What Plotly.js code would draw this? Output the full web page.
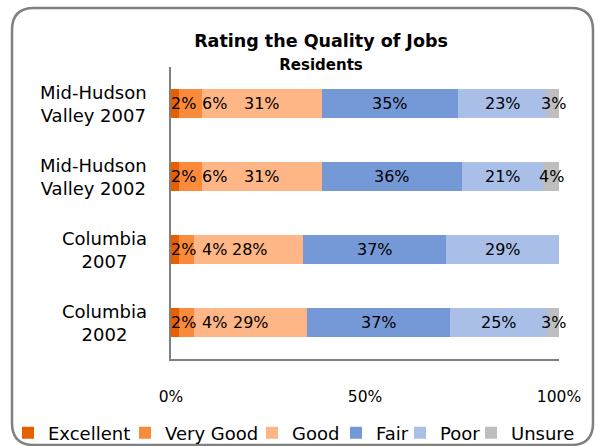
<!DOCTYPE html>
<html><head><meta charset="utf-8">
<script src="https://cdn.plot.ly/plotly-3.0.1.min.js"></script>
<style>html,body{margin:0;padding:0;background:#fff}#chart{width:595px;height:446px}</style>
</head><body><div id="chart"></div>
<script>
// ---- data ----
const categories = ['Mid-Hudson Valley 2007', 'Mid-Hudson Valley 2002', 'Columbia 2007', 'Columbia 2002'];
const categoryLabels = ['Mid-Hudson<br>Valley 2007', 'Mid-Hudson<br>Valley 2002', 'Columbia<br>2007', 'Columbia<br>2002'];
const seriesNames = ['Excellent', 'Very Good', 'Good', 'Fair', 'Poor', 'Unsure'];
const excellent = [2, 2, 2, 2];
const veryGood  = [6, 6, 4, 4];
const good      = [31, 31, 28, 29];
const fair      = [35, 36, 37, 37];
const poor      = [23, 21, 29, 25];
const unsure    = [3, 4, 0, 3];
const tickValues = [0, 50, 100];
const tickLabels = ['0%', '50%', '100%'];

// ---- styles ----
const seriesColors = ['#E65F00', '#FA8A3C', '#FFB686', '#7599D6', '#A9BFE8', '#BEBEBE'];
const FONT = 'DejaVu Sans, Verdana, sans-serif';
const W = 595, H = 446;
const M = {l: 171, r: 36, t: 67, b: 87};
const plotW = W - M.l - M.r, plotH = H - M.t - M.b;
const px2x = px => (px - M.l) / plotW;
const py2y = py => (H - M.b - py) / plotH;

const allSeries = [excellent, veryGood, good, fair, poor, unsure];
const legendIds = ['legend', 'legend2', 'legend3', 'legend4', 'legend5', 'legend6'];
const legendPx = [8, 125, 252, 336, 400, 471];

const traces = allSeries.map((vals, i) => ({
  type: 'bar', orientation: 'h', name: seriesNames[i],
  x: vals, y: categories,
  marker: {color: seriesColors[i], line: {width: 0}},
  hoverinfo: 'skip',
  legend: legendIds[i]
}));

// data labels
const annotations = [];
const pxPer = plotW / 100;
const labelFont = 16;
const estW = t => (t.length - 1) * 0.636 * labelFont + 0.95 * labelFont;
categories.forEach((cat, r) => {
  let cum = 0, prevRight = -5;
  allSeries.forEach((vals, s) => {
    const v = vals[r];
    if (v > 0) {
      const cData = cum + v / 2;
      const cPx = cData * pxPer;
      const txt = v + '%';
      const w = estW(txt);
      const left = Math.max(cPx - w / 2, prevRight + 5);
      annotations.push({
        x: cData, y: cat, xref: 'x', yref: 'y', text: txt, showarrow: false,
        xshift: left + w / 2 - cPx,
        font: {family: FONT, size: labelFont, color: '#000'}
      });
      prevRight = left + w;
    }
    cum += v;
  });
  annotations.push({
    x: 0, xref: 'paper', y: cat, yref: 'y', xanchor: 'right', align: 'center',
    xshift: -22, text: categoryLabels[r], showarrow: false,
    font: {family: FONT, size: 18, color: '#000'}
  });
});

// rounded border
const bx = {L: 12, T: 8, R: 593, B: 445, rad: 22};
const P = (x, y) => px2x(x) + ',' + py2y(y);
const borderPath = 'M' + P(bx.L + bx.rad, bx.T) + ' L' + P(bx.R - bx.rad, bx.T) +
  ' Q' + P(bx.R, bx.T) + ' ' + P(bx.R, bx.T + bx.rad) +
  ' L' + P(bx.R, bx.B - bx.rad) + ' Q' + P(bx.R, bx.B) + ' ' + P(bx.R - bx.rad, bx.B) +
  ' L' + P(bx.L + bx.rad, bx.B) + ' Q' + P(bx.L, bx.B) + ' ' + P(bx.L, bx.B - bx.rad) +
  ' L' + P(bx.L, bx.T + bx.rad) + ' Q' + P(bx.L, bx.T) + ' ' + P(bx.L + bx.rad, bx.T) + ' Z';

const layout = {
  width: W, height: H, margin: M,
  paper_bgcolor: '#fff', plot_bgcolor: '#fff',
  font: {family: FONT, color: '#000'},
  barmode: 'stack', bargap: 0.59,
  title: {
    text: '<b>Rating the Quality of Jobs</b><br><b><span style="font-size:15px">Residents</span></b>',
    font: {family: FONT, size: 17.5, color: '#000'},
    x: 321 / W, xref: 'container', xanchor: 'center',
    y: 1 - 47 / H, yref: 'container', yanchor: 'top', automargin: false
  },
  xaxis: {
    range: [0, 100], tickvals: tickValues, ticktext: tickLabels,
    showline: true, linecolor: '#808080', linewidth: 2,
    showgrid: false, zeroline: false, ticks: '',
    tickfont: {family: FONT, size: 15.5, color: '#000'},
    ticklabelstandoff: 22, fixedrange: true, automargin: false
  },
  yaxis: {
    type: 'category', categoryorder: 'array', categoryarray: categories,
    autorange: 'reversed', automargin: false,
    showline: true, linecolor: '#808080', linewidth: 2,
    showgrid: false, zeroline: false, ticks: '', showticklabels: false, fixedrange: true
  },
  annotations: annotations,
  shapes: [{type: 'path', xref: 'paper', yref: 'paper', path: borderPath,
    line: {color: '#808080', width: 2.5}, layer: 'below'}],
  showlegend: true
};
legendIds.forEach((id, i) => {
  layout[id] = {
    orientation: 'h', xref: 'container', yref: 'container',
    x: legendPx[i] / W, xanchor: 'left',
    y: 1 - 433 / H, yanchor: 'middle', bgcolor: 'rgba(0,0,0,0)',
    font: {family: FONT, size: 18, color: '#000'},
    itemclick: false, itemdoubleclick: false
  };
});

Plotly.newPlot('chart', traces, layout, {displayModeBar: false, staticPlot: true});
</script>
</body></html>
